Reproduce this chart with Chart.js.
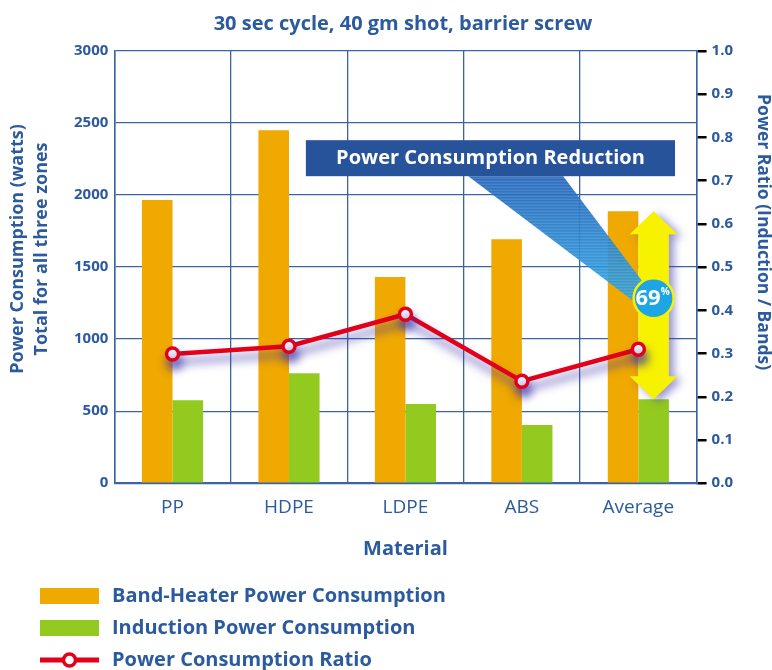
<!DOCTYPE html>
<html>
<head>
<meta charset="utf-8">
<script src="https://cdn.jsdelivr.net/npm/chart.js@4"></script>
<style>
  html, body { margin: 0; padding: 0; background: #fff; }
  #wrap { width: 772px; height: 670px; }
</style>
</head>
<body>
<div id="wrap"><canvas id="powerChart"></canvas></div>
<script>
// Data
const materials = ["PP", "HDPE", "LDPE", "ABS", "Average"];
const bandHeaterWatts = [1965, 2450, 1432, 1694, 1888];
const inductionWatts = [576, 764, 550, 404, 583];
const powerRatio = [0.299, 0.317, 0.391, 0.236, 0.31];
const leftAxisTitle = ["Power Consumption (watts)", "Total for all three zones"];
const rightAxisTitle = "Power Ratio (Induction / Bands)";
const reductionLabel = "Power Consumption Reduction";
const reductionPercent = "69";

const BLUE = "#2b5a9e";
const GRID = "#3a64a3";
const ORANGE = "#f0a900";
const GREEN = "#93ca1f";
const RED = "#e2001a";
const FONT = "'Open Sans', sans-serif";

// yellow arrow under the line (over the bars), plus shadow for the line
const arrowPlugin = {
  id: "arrowPlugin",
  beforeDatasetDraw(chart, args) {
    if (args.meta.type !== "line") return;
    const ctx = chart.ctx;
    const y = chart.scales.y;
    const green = chart.getDatasetMeta(2).data[4];
    const cx = green.x;
    const half = green.width / 2;
    const topY = y.getPixelForValue(bandHeaterWatts[4]);
    const botY = y.getPixelForValue(inductionWatts[4]);
    const headH = 23, headW = 24;
    ctx.save();
    ctx.shadowColor = "rgba(70,60,170,0.55)";
    ctx.shadowBlur = 8;
    ctx.shadowOffsetX = 5;
    ctx.shadowOffsetY = 3;
    ctx.fillStyle = "#f7f200";
    ctx.beginPath();
    ctx.moveTo(cx, topY);
    ctx.lineTo(cx + headW, topY + headH);
    ctx.lineTo(cx + half, topY + headH);
    ctx.lineTo(cx + half, botY - headH);
    ctx.lineTo(cx + headW, botY - headH);
    ctx.lineTo(cx, botY);
    ctx.lineTo(cx - headW, botY - headH);
    ctx.lineTo(cx - half, botY - headH);
    ctx.lineTo(cx - half, topY + headH);
    ctx.lineTo(cx - headW, topY + headH);
    ctx.closePath();
    ctx.fill();
    ctx.restore();

    ctx.save();
    ctx.shadowColor = "rgba(60,50,170,0.7)";
    ctx.shadowBlur = 10;
    ctx.shadowOffsetX = 2;
    ctx.shadowOffsetY = 8;
  },
  afterDatasetDraw(chart, args) {
    if (args.meta.type !== "line") return;
    chart.ctx.restore();
  },
  afterDatasetsDraw(chart) {
    const ctx = chart.ctx;
    const y = chart.scales.y;
    const area = chart.chartArea;
    const green = chart.getDatasetMeta(2).data[4];
    const circX = green.x;
    const circY = y.getPixelForValue((bandHeaterWatts[4] + inductionWatts[4]) / 2) - 7;
    const boxL = area.left + area.width * 0.329;
    const boxR = area.left + area.width * 0.963;
    const boxT = y.getPixelForValue(2381);
    const boxB = y.getPixelForValue(2131);

    // funnel
    ctx.save();
    const grad = ctx.createLinearGradient(0, boxB, 0, circY);
    grad.addColorStop(0, "rgba(35,100,185,0.95)");
    grad.addColorStop(1, "rgba(40,160,225,0.9)");
    ctx.fillStyle = grad;
    ctx.beginPath();
    ctx.moveTo(boxL + area.width * 0.279, boxB);
    ctx.lineTo(boxL + area.width * 0.442, boxB);
    ctx.lineTo(circX - 6, circY - 10);
    ctx.lineTo(circX - 16, circY + 6);
    ctx.closePath();
    ctx.fill();
    ctx.clip();
    ctx.strokeStyle = "rgba(255,255,255,0.18)";
    ctx.lineWidth = 1;
    for (let yy = boxB + 2; yy < circY; yy += 3) {
      ctx.beginPath();
      ctx.moveTo(boxL, yy);
      ctx.lineTo(circX, yy);
      ctx.stroke();
    }
    ctx.restore();

    // box
    ctx.save();
    ctx.fillStyle = "#26539a";
    ctx.fillRect(boxL, boxT, boxR - boxL, boxB - boxT);
    ctx.fillStyle = "#fff";
    ctx.font = "bold 20px " + FONT;
    ctx.textAlign = "center";
    ctx.textBaseline = "middle";
    ctx.fillText(reductionLabel, (boxL + boxR) / 2, (boxT + boxB) / 2);
    ctx.restore();

    // circle
    ctx.save();
    ctx.beginPath();
    ctx.arc(circX, circY, 20, 0, Math.PI * 2);
    ctx.fillStyle = "#1ea6e4";
    ctx.fill();
    ctx.lineWidth = 2.5;
    ctx.strokeStyle = "#f7f200";
    ctx.stroke();
    ctx.fillStyle = "#fff";
    ctx.textBaseline = "middle";
    ctx.textAlign = "right";
    ctx.font = "bold 22px " + FONT;
    ctx.fillText(reductionPercent, circX + 7, circY + 1);
    ctx.textAlign = "left";
    ctx.font = "bold 10px " + FONT;
    ctx.fillText("%", circX + 7, circY - 6);
    ctx.restore();
  }
};

// axis titles and the vertical legend at bottom left
const textPlugin = {
  id: "textPlugin",
  afterDraw(chart) {
    const ctx = chart.ctx;
    const area = chart.chartArea;
    ctx.save();
    ctx.fillStyle = BLUE;
    ctx.textAlign = "center";
    ctx.textBaseline = "middle";
    ctx.font = "bold 18px " + FONT;
    const midL = area.top + (area.bottom - area.top) * 0.458;
    leftAxisTitle.forEach((t, i) => {
      ctx.save();
      ctx.translate(18 + i * 24, midL);
      ctx.rotate(-Math.PI / 2);
      ctx.fillText(t, 0, 0);
      ctx.restore();
    });
    ctx.font = "bold 17.5px " + FONT;
    ctx.save();
    ctx.translate(763, area.top + (area.bottom - area.top) * 0.419);
    ctx.rotate(Math.PI / 2);
    ctx.fillText(rightAxisTitle, 0, 0);
    ctx.restore();
    ctx.restore();

    const left = 40, boxW = 59, rowY = [596, 628, 660];
    ctx.save();
    ctx.font = "bold 20px " + FONT;
    ctx.textBaseline = "middle";
    chart.data.datasets.forEach((ds) => {
      const yy = rowY[ds.legendRow];
      if (ds.type === "line") {
        ctx.strokeStyle = RED;
        ctx.lineWidth = 5;
        ctx.beginPath();
        ctx.moveTo(left, yy);
        ctx.lineTo(left + boxW, yy);
        ctx.stroke();
        ctx.beginPath();
        ctx.arc(left + boxW / 2, yy, 6, 0, Math.PI * 2);
        ctx.fillStyle = "#fff";
        ctx.fill();
        ctx.lineWidth = 3.5;
        ctx.stroke();
      } else {
        ctx.fillStyle = ds.backgroundColor;
        ctx.fillRect(left, yy - 8, boxW, 16);
      }
      ctx.fillStyle = BLUE;
      ctx.fillText(ds.label, left + boxW + 13, yy);
    });
    ctx.restore();
  }
};

const ctx = document.getElementById("powerChart").getContext("2d");
const powerChart = new Chart(ctx, {
  data: {
    labels: materials,
    datasets: [
      {
        type: "line",
        label: "Power Consumption Ratio",
        data: powerRatio,
        yAxisID: "y2",
        borderColor: RED,
        borderWidth: 4.5,
        pointRadius: 6,
        pointBorderWidth: 3.5,
        pointBackgroundColor: "#fff",
        pointBorderColor: RED,
        order: 0,
        legendRow: 2,
      },
      {
        type: "bar",
        label: "Band-Heater Power Consumption",
        data: bandHeaterWatts,
        backgroundColor: ORANGE,
        yAxisID: "y",
        order: 1,
        legendRow: 0,
      },
      {
        type: "bar",
        label: "Induction Power Consumption",
        data: inductionWatts,
        backgroundColor: GREEN,
        yAxisID: "y",
        order: 1,
        legendRow: 1,
      },
    ],
  },
  options: {
    responsive: true,
    maintainAspectRatio: false,
    animation: false,
    datasets: {
      bar: { barPercentage: 1, categoryPercentage: 0.525 },
    },
    layout: { padding: { left: 68, right: 34, top: 12, bottom: 105 } },
    plugins: {
      legend: { display: false },
      tooltip: { enabled: false },
      title: {
        display: true,
        text: "30 sec cycle, 40 gm shot, barrier screw",
        color: BLUE,
        font: { family: FONT, size: 20, weight: "bold" },
        padding: { top: 0, bottom: 15 },
      },
    },
    scales: {
      x: {
        grid: { color: GRID, lineWidth: 1.3, offset: true, drawTicks: false },
        border: { color: GRID, width: 1.5 },
        ticks: { color: BLUE, font: { family: FONT, size: 19 }, padding: 13 },
        title: {
          display: true,
          text: "Material",
          color: BLUE,
          font: { family: FONT, size: 20, weight: "bold" },
          padding: { top: 5 },
        },
      },
      y: {
        position: "left",
        min: 0,
        max: 3000,
        grid: { color: GRID, lineWidth: 1.3, drawTicks: false },
        border: { color: GRID, width: 1.5 },
        ticks: {
          stepSize: 500,
          color: BLUE,
          font: { family: FONT, size: 15, weight: "bold" },
          padding: 6,
          callback: (v) => String(v),
        },
      },
      y2: {
        position: "right",
        min: 0,
        max: 1,
        grid: {
          drawOnChartArea: false,
          color: "#000",
          lineWidth: 2.5,
          tickLength: 10,
        },
        border: { color: GRID, width: 1.5 },
        ticks: {
          stepSize: 0.1,
          color: BLUE,
          font: { family: FONT, size: 15, weight: "bold" },
          padding: 5,
          callback: (v) => v.toFixed(1),
        },
      },
    },
  },
  plugins: [arrowPlugin, textPlugin],
});
</script>
</body>
</html>
